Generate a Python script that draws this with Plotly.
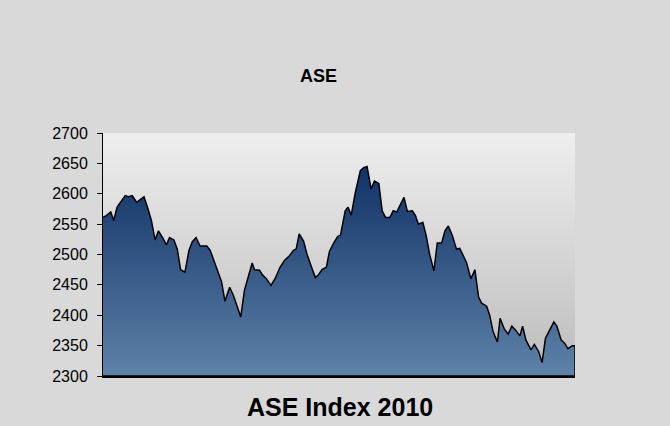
import plotly.graph_objects as go

# Digitised ASE index 2010 (x = approximate trading-session index)
day = [0.0, 1.0, 2.3, 3.2, 4.2, 5.3, 6.6, 7.6, 8.7, 10.0, 11.0, 12.2, 13.4, 14.4, 15.5, 16.5, 17.7,
       18.9, 19.8, 21.1, 22.1, 23.1, 24.4, 25.6, 26.6, 27.7, 28.9, 30.9, 31.9, 33.3, 35.3, 36.3,
       37.7, 38.8, 39.8, 41.0, 42.1, 43.3, 44.4, 45.1, 46.6, 47.5, 48.5, 50.0, 51.3, 52.7, 54.0,
       55.5, 56.7, 57.5, 58.4, 59.7, 60.7, 61.9, 63.2, 64.2, 65.2, 66.5, 67.4, 68.7, 69.9, 70.7,
       71.2, 72.1, 72.9, 73.9, 75.1, 76.6, 77.6, 78.6, 79.8, 80.8, 82.1, 83.1, 84.1, 85.4, 86.4,
       87.4, 88.6, 89.6, 90.6, 92.1, 93.0, 93.9, 95.2, 96.2, 97.2, 98.5, 99.5, 100.8, 101.8, 102.8,
       104.0, 105.2, 106.2, 107.0, 108.2, 109.5, 110.7, 111.8, 112.7, 114.2, 115.1, 116.1, 117.4,
       118.2, 119.4, 120.6, 121.7, 122.9, 124.1, 124.9, 125.9, 127.4, 128.4, 129.7, 130.7, 131.7,
       132.9, 134.2, 135.1, 136.4, 137.4, 138.4, 139.7, 140.5]
index_value = [2561, 2564, 2570, 2556, 2578, 2587, 2597, 2595, 2597, 2586, 2590, 2595, 2575, 2556,
               2524, 2539, 2528, 2516, 2528, 2524, 2509, 2475, 2471, 2507, 2521, 2528, 2514, 2514,
               2507, 2485, 2455, 2423, 2446, 2433, 2416, 2397, 2441, 2463, 2486, 2475, 2474, 2466,
               2461, 2449, 2461, 2479, 2490, 2498, 2507, 2509, 2534, 2522, 2501, 2482, 2462, 2467,
               2475, 2479, 2505, 2519, 2530, 2532, 2546, 2572, 2578, 2565, 2602, 2638, 2643, 2645,
               2608, 2621, 2617, 2572, 2561, 2561, 2572, 2570, 2583, 2594, 2571, 2572, 2564, 2550,
               2553, 2531, 2501, 2473, 2519, 2519, 2539, 2547, 2531, 2509, 2510, 2501, 2487, 2460,
               2475, 2430, 2420, 2415, 2400, 2373, 2356, 2395, 2378, 2369, 2382, 2375, 2366, 2382,
               2359, 2343, 2352, 2340, 2322, 2362, 2375, 2389, 2382, 2359, 2354, 2345, 2350, 2350]

y_min, y_max, y_step = 2300, 2700, 50
x_min, x_max = day[0], day[-1]

W, H = 670, 426
ML, MR, MT, MB = 103, 95, 133, 50
pw, ph = W - ML - MR, H - MT - MB


def px_to_paper(px, py):
    return (px - ML) / pw, (H - MB - py) / ph


fig = go.Figure()

# plot-area background gradient
fig.add_trace(go.Scatter(
    x=[x_min, x_max, x_max, x_min, x_min], y=[y_min, y_min, y_max, y_max, y_min],
    fill="toself", mode="lines", line=dict(width=0),
    fillgradient=dict(type="vertical", start=y_min, stop=y_max,
                      colorscale=[[0, "#bcbcbc"], [1, "#eeeeee"]]),
    hoverinfo="skip", showlegend=False))

# area series closed down to the axis minimum
fig.add_trace(go.Scatter(
    x=day + [x_max, x_min], y=index_value + [y_min, y_min],
    fill="toself", mode="lines", line=dict(color="black", width=1.5),
    fillgradient=dict(type="vertical", start=y_min, stop=max(index_value),
                      colorscale=[[0, "#5e82a8"], [1, "#113266"]]),
    showlegend=False))

t1x, t1y = px_to_paper(318, 76)
t2x, t2y = px_to_paper(339.5, 407)

fig.update_layout(
    width=W, height=H,
    margin=dict(l=ML, r=MR, t=MT, b=MB),
    paper_bgcolor="#d9d9d9", plot_bgcolor="#d9d9d9",
    font=dict(family="Liberation Sans, Arial, sans-serif", color="black"),
    showlegend=False,
    annotations=[
        dict(text="<b>ASE</b>", x=t1x, y=t1y, xref="paper", yref="paper",
             xanchor="center", yanchor="middle", showarrow=False, font=dict(size=18)),
        dict(text="<b>ASE Index 2010</b>", x=t2x, y=t2y, xref="paper", yref="paper",
             xanchor="center", yanchor="middle", showarrow=False, font=dict(size=25)),
    ],
)

fig.update_xaxes(range=[x_min, x_max], showgrid=False, zeroline=False, showticklabels=False,
                 ticks="", showline=True, linecolor="black", linewidth=2)
fig.update_yaxes(range=[y_min, y_max], dtick=y_step, showgrid=False, zeroline=False,
                 ticks="outside", ticklen=5, tickcolor="black", tickwidth=1,
                 showline=True, linecolor="black", linewidth=1,
                 ticklabelstandoff=6, tickfont=dict(size=16, color="black"))

fig.write_html("out.html")
